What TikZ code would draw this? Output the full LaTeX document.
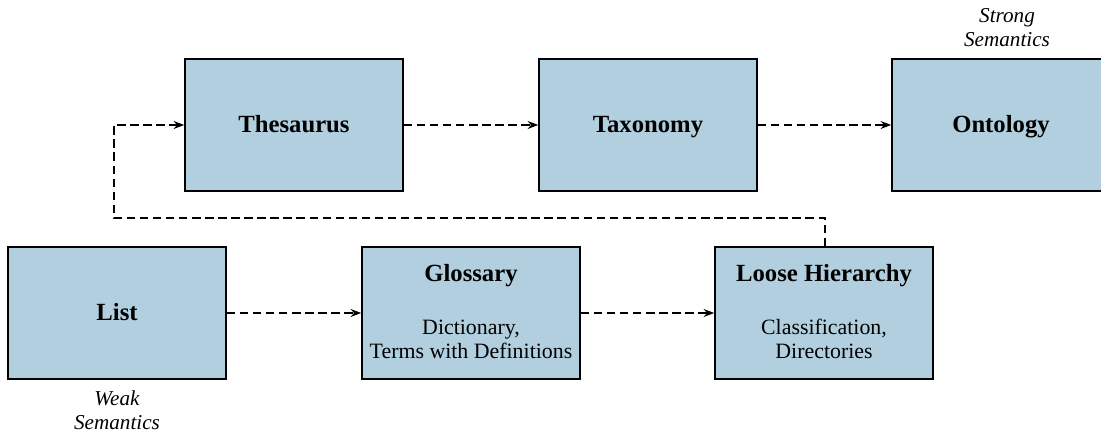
\documentclass[tikz,border=0pt]{standalone}
\usepackage{fontspec}
\setmainfont{Liberation Serif}
\usetikzlibrary{arrows.meta}
\definecolor{boxblue}{RGB}{177,207,222}
\tikzset{
  stage/.style={draw=black, line width=0.9pt, fill=boxblue, minimum width=123.6pt,
    minimum height=75pt, inner sep=0pt},
  % heading that stands alone in its box, baseline 4pt below the centre
  solo/.style={stage, font=\fontsize{14}{16}\bfseries\selectfont, text height=10pt, text depth=2pt},
  heading/.style={anchor=base, inner sep=0pt, font=\fontsize{14}{16}\bfseries\selectfont},
  detail/.style={anchor=base, inner sep=0pt, font=\fontsize{12.4}{14}\selectfont},
  flow/.style={draw=black, line width=0.85pt, dash pattern=on 4.8pt off 2.6pt,
    -{Stealth[length=6pt,width=4.5pt]}},
  note/.style={font=\fontsize{12}{13.5}\itshape\selectfont, align=center}
}
\begin{document}
\begin{tikzpicture}[x=0.567pt, y=-0.567pt]
  \useasboundingbox (0,0) rectangle (1101,435);
  \begin{scope}
    \clip (0,0) rectangle (1101,435);
    % upper row
    \node[solo] (thes) at (294,125) {Thesaurus};
    \node[solo] (taxo) at (648,125) {Taxonomy};
    \node[solo] (onto) at (1001,125) {Ontology};
    % lower row
    \node[solo] (list) at (117,313) {List};
    \node[stage] (glos) at (471,313) {};
    \node[heading] (glosHead) at (471,282) {Glossary};
    \node[detail] (glosLineA) at (471,335) {Dictionary,};
    \node[detail] (glosLineB) at (471,359) {Terms with Definitions};
    \node[stage] (loose) at (824,313) {};
    \node[heading] (looseHead) at (824,282) {Loose Hierarchy};
    \node[detail] (looseLineA) at (824,335) {Classification,};
    \node[detail] (looseLineB) at (824,359) {Directories};
    % semantics labels
    \node[note] (strong) at (1007,28) {Strong\\Semantics};
    \node[note] (weak) at (117,410) {Weak\\Semantics};
    % connectors
    \draw[flow] (thes.east) -- (taxo.west);
    \draw[flow] (taxo.east) -- (onto.west);
    \draw[flow] (list.east) -- (glos.west);
    \draw[flow] (glos.east) -- (loose.west);
    \coordinate (back) at (825,218);
    \draw[flow] (loose.north -| back) -- (back) -- (114,218) |- (thes.west);
  \end{scope}
\end{tikzpicture}
\end{document}
